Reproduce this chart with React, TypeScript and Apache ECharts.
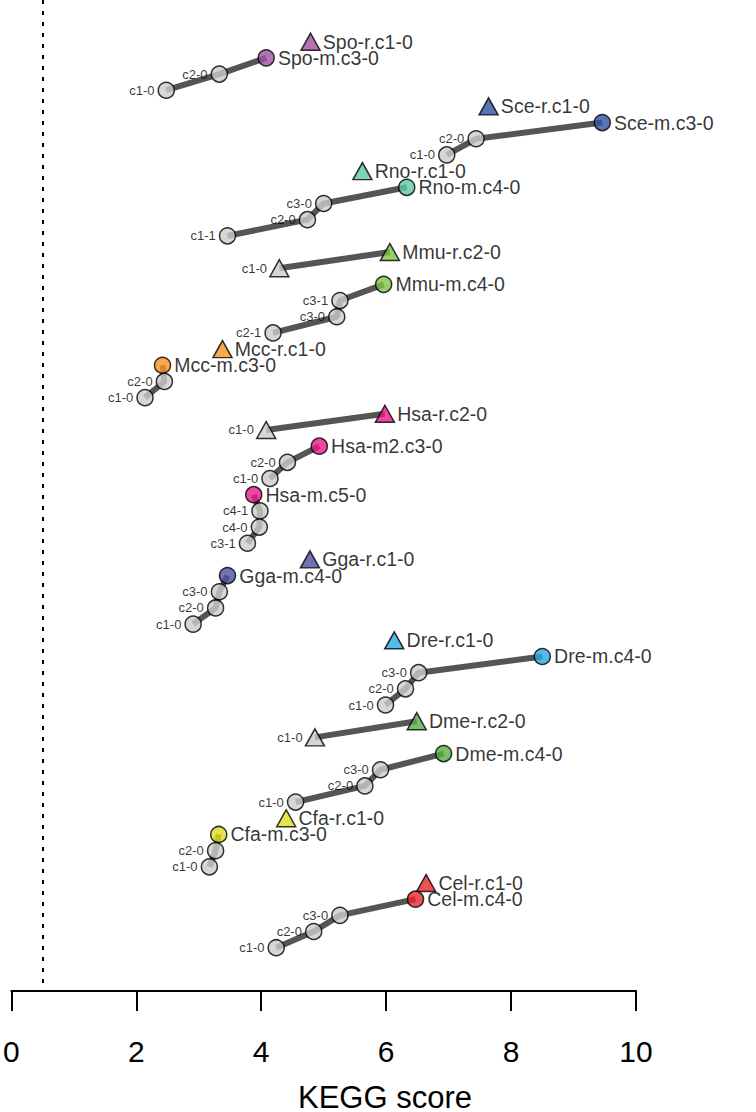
import React, { useEffect, useRef } from "react";
import * as echarts from "echarts";

// Row order top -> bottom (row number = index + 1)
const nodeNames: string[] = [
  "Spo-r.c1-0", "Spo-m.c3-0", "c2-0", "c1-0",
  "Sce-r.c1-0", "Sce-m.c3-0", "c2-0", "c1-0",
  "Rno-r.c1-0", "Rno-m.c4-0", "c3-0", "c2-0", "c1-1",
  "Mmu-r.c2-0", "c1-0", "Mmu-m.c4-0", "c3-1", "c3-0", "c2-1",
  "Mcc-r.c1-0", "Mcc-m.c3-0", "c2-0", "c1-0",
  "Hsa-r.c2-0", "c1-0", "Hsa-m2.c3-0", "c2-0", "c1-0", "Hsa-m.c5-0", "c4-1", "c4-0", "c3-1",
  "Gga-r.c1-0", "Gga-m.c4-0", "c3-0", "c2-0", "c1-0",
  "Dre-r.c1-0", "Dre-m.c4-0", "c3-0", "c2-0", "c1-0",
  "Dme-r.c2-0", "c1-0", "Dme-m.c4-0", "c3-0", "c2-0", "c1-0",
  "Cfa-r.c1-0", "Cfa-m.c3-0", "c2-0", "c1-0",
  "Cel-r.c1-0", "Cel-m.c4-0", "c3-0", "c2-0", "c1-0",
];

const nodeScores: number[] = [
  4.79, 4.08, 3.33, 2.48,
  7.64, 9.46, 7.44, 6.97,
  5.62, 6.33, 5.0, 4.74, 3.46,
  6.06, 4.29, 5.96, 5.26, 5.21, 4.19,
  3.38, 2.42, 2.45, 2.14,
  5.98, 4.08, 4.93, 4.42, 4.14, 3.88, 3.98, 3.97, 3.78,
  4.78, 3.46, 3.33, 3.27, 2.91,
  6.13, 8.5, 6.52, 6.31, 5.99,
  6.49, 4.86, 6.92, 5.91, 5.66, 4.55,
  4.4, 3.32, 3.27, 3.17,
  6.64, 6.47, 5.26, 4.84, 4.24,
];

// t = triangle, c = circle
const nodeShapes: string[] = [
  "t", "c", "c", "c",
  "t", "c", "c", "c",
  "t", "c", "c", "c", "c",
  "t", "t", "c", "c", "c", "c",
  "t", "c", "c", "c",
  "t", "t", "c", "c", "c", "c", "c", "c", "c",
  "t", "c", "c", "c", "c",
  "t", "c", "c", "c", "c",
  "t", "t", "c", "c", "c", "c",
  "t", "c", "c", "c",
  "t", "c", "c", "c", "c",
];

// connected paths, by row number
const chains: number[][] = [
  [4, 3, 2],
  [8, 7, 6],
  [13, 12, 11, 10],
  [15, 14],
  [19, 18, 17, 16],
  [23, 22, 21],
  [25, 24],
  [28, 27, 26],
  [32, 31, 30, 29],
  [37, 36, 35, 34],
  [42, 41, 40, 39],
  [44, 43],
  [48, 47, 46, 45],
  [52, 51, 50],
  [57, 56, 55, 54],
];

const speciesColors: Record<string, string> = {
  Spo: "#a34fa5",
  Sce: "#2f52a6",
  Rno: "#62c9a0",
  Mmu: "#7fc242",
  Mcc: "#f7931e",
  Hsa: "#e8198b",
  Gga: "#4d4da2",
  Dre: "#2ba9e1",
  Dme: "#55b145",
  Cfa: "#dede1e",
  Cel: "#e8262a",
};

const xTicks = { min: 0, max: 10, interval: 2 };
const thresholdScore = 0.5;
const axisTitle = "KEGG score";

const FONT = "'Liberation Sans', Arial, Helvetica, sans-serif";

export default function App() {
  const ref = useRef<HTMLDivElement>(null);

  useEffect(() => {
    if (!ref.current) return;
    const chart = echarts.init(ref.current, null, { renderer: "svg" });

    const lineSeries = chains.map((chain) => ({
      type: "line",
      data: chain.map((r) => [nodeScores[r - 1], r]),
      symbol: "none",
      lineStyle: { color: "#555555", width: 6 },
      z: 2,
      silent: true,
    }));

    const points = nodeNames.map((name, i) => {
      const prefix = name.split("-")[0];
      const color = speciesColors[prefix];
      const isTri = nodeShapes[i] === "t";
      return {
        name,
        value: [nodeScores[i], i + 1],
        symbol: isTri ? "triangle" : "circle",
        symbolSize: isTri ? [19, 17] : 16,
        itemStyle: {
          color: color || "#cccccc",
          borderColor: "#000",
          borderWidth: 1.5,
        },
        label: color
          ? {
              show: true,
              position: "right",
              distance: isTri ? 2 : 3,
              formatter: "{b}",
              fontSize: 19.5,
              color: "#000",
              fontFamily: FONT,
            }
          : {
              show: true,
              position: "left",
              distance: isTri ? 2 : 3,
              formatter: "{b}",
              fontSize: 13,
              color: "#000",
              fontFamily: FONT,
            },
      };
    });

    chart.setOption({
      animation: false,
      grid: { left: 7.5, right: 120, top: 0, bottom: 121, containLabel: false },
      xAxis: {
        type: "value",
        min: xTicks.min,
        max: xTicks.max,
        interval: xTicks.interval,
        splitLine: { show: false },
        axisLine: { show: true, onZero: false, lineStyle: { color: "#000", width: 2 } },
        axisTick: { show: true, length: 20, lineStyle: { color: "#000", width: 2 } },
        axisLabel: { fontSize: 30, color: "#000", margin: 45, fontFamily: FONT },
      },
      yAxis: {
        type: "value",
        inverse: true,
        min: -1.577,
        max: 59.676,
        show: false,
        splitLine: { show: false },
      },
      graphic: [
        {
          type: "text",
          x: 385,
          y: 1097,
          style: {
            text: axisTitle,
            fontSize: 31,
            fill: "#000",
            align: "center",
            verticalAlign: "middle",
            fontFamily: FONT,
          },
        },
      ],
      series: [
        ...lineSeries,
        {
          type: "scatter",
          data: points,
          z: 3,
          markLine: {
            silent: true,
            symbol: ["none", "none"],
            label: { show: false },
            lineStyle: { color: "#000", width: 2, type: [4, 7] },
            data: [{ xAxis: thresholdScore }],
          },
        },
      ],
    });

    return () => chart.dispose();
  }, []);

  return (
    <div
      ref={ref}
      style={{ position: "fixed", left: 0, top: 0, width: 756, height: 1112, background: "#fff" }}
    />
  );
}
